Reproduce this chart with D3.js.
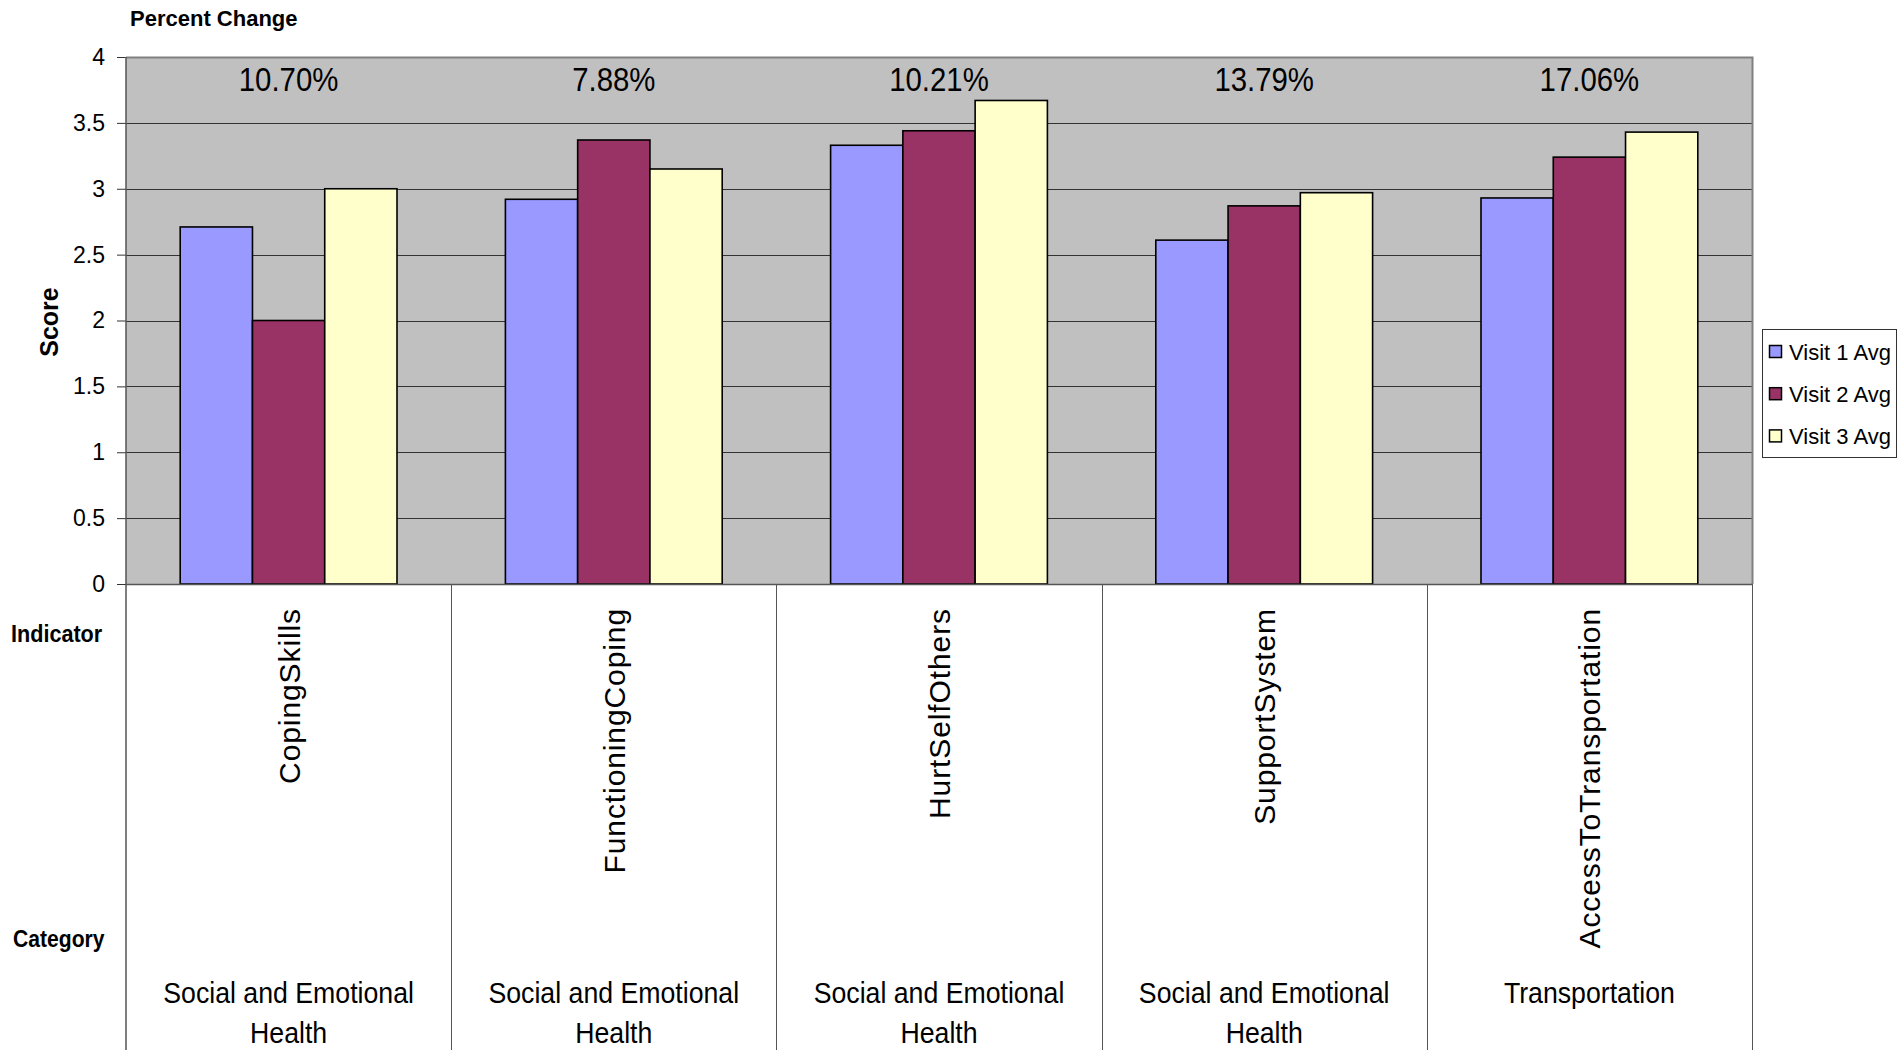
<!DOCTYPE html>
<html>
<head>
<meta charset="utf-8">
<script src="https://cdn.jsdelivr.net/npm/d3@7"></script>
<style>
  html, body { margin: 0; padding: 0; background: #fff; }
  svg { display: block; font-family: "Liberation Sans", Arial, sans-serif; }
</style>
</head>
<body>
<svg id="chart" width="1899" height="1050"></svg>
<script>
// ---- data ----
const indicators = ["CopingSkills", "FunctioningCoping", "HurtSelfOthers", "SupportSystem", "AccessToTransportation"];
const categories = [["Social and Emotional", "Health"], ["Social and Emotional", "Health"], ["Social and Emotional", "Health"], ["Social and Emotional", "Health"], ["Transportation"]];
const seriesNames = ["Visit 1 Avg", "Visit 2 Avg", "Visit 3 Avg"];
const visit1 = [2.71, 2.92, 3.33, 2.61, 2.93];
const visit2 = [2.00, 3.37, 3.44, 2.87, 3.24];
const visit3 = [3.00, 3.15, 3.67, 2.97, 3.43];
const percentChange = ["10.70%", "7.88%", "10.21%", "13.79%", "17.06%"];
const yTicks = [0, 0.5, 1, 1.5, 2, 2.5, 3, 3.5, 4];
const seriesColors = ["#9999FF", "#993366", "#FFFFCC"];

// ---- layout ----
const svg = d3.select("#chart");
const plot = { left: 126, right: 1752, top: 57, bottom: 584 };
const seriesValues = [visit1, visit2, visit3];

const x0 = d3.scaleBand().domain(indicators).range([plot.left, plot.right]).padding(0);
const x1 = d3.scaleBand().domain(seriesNames).range([0, x0.bandwidth()]).paddingInner(0).paddingOuter(0.75);
const y = d3.scaleLinear().domain([0, 4]).range([plot.bottom, plot.top]);
const color = d3.scaleOrdinal().domain(seriesNames).range(seriesColors);

function condense(sel, f) {
  sel.each(function () {
    const len = this.getComputedTextLength();
    d3.select(this).attr("textLength", len * f).attr("lengthAdjust", "spacingAndGlyphs");
  });
}

// plot background
svg.append("rect")
  .attr("x", plot.left).attr("y", plot.top)
  .attr("width", plot.right - plot.left).attr("height", plot.bottom - plot.top)
  .attr("fill", "#C0C0C0");

// gridlines
svg.append("g").selectAll("line").data(yTicks.filter(t => t > 0 && t < 4)).join("line")
  .attr("x1", plot.left).attr("x2", plot.right)
  .attr("y1", d => Math.round(y(d)) + 0.5).attr("y2", d => Math.round(y(d)) + 0.5)
  .attr("stroke", "#333").attr("stroke-width", 1);

// plot border top/right
svg.append("path")
  .attr("d", `M${plot.left},${plot.top + 0.5}H${plot.right + 0.5}V${plot.bottom}`)
  .attr("fill", "none").attr("stroke", "#808080").attr("stroke-width", 2);

// bars
const rows = indicators.map((ind, i) => ({ ind, vals: seriesNames.map((s, k) => ({ s, v: seriesValues[k][i] })) }));
const groups = svg.append("g").selectAll("g").data(rows).join("g")
  .attr("transform", d => `translate(${x0(d.ind)},0)`);
groups.selectAll("rect").data(d => d.vals).join("rect")
  .attr("x", d => x1(d.s))
  .attr("y", d => y(d.v))
  .attr("width", x1.bandwidth())
  .attr("height", d => y(0) - y(d.v))
  .attr("fill", d => color(d.s))
  .attr("stroke", "#000").attr("stroke-width", 1.6);

// y axis
const yAxis = d3.axisLeft(y).tickValues(yTicks).tickSize(9).tickPadding(12).tickFormat(d3.format("~g"));
const yg = svg.append("g").attr("transform", `translate(${plot.left},0)`).call(yAxis);
yg.select(".domain").remove();
yg.selectAll(".tick line").attr("stroke", "#333");
yg.selectAll(".tick text").attr("font-size", 23).attr("fill", "#000")
  .attr("font-family", '"Liberation Sans", Arial, sans-serif');
yg.append("line").attr("x1", 0).attr("x2", 0).attr("y1", plot.top).attr("y2", 1050)
  .attr("stroke", "#555").attr("stroke-width", 1.5);

// x axis line
svg.append("line").attr("x1", plot.left).attr("x2", plot.right + 1)
  .attr("y1", plot.bottom + 0.5).attr("y2", plot.bottom + 0.5)
  .attr("stroke", "#555").attr("stroke-width", 1.5);

// category separators in the table area
const bounds = indicators.map(d => x0(d) + x0.bandwidth());
svg.append("g").selectAll("line").data(bounds).join("line")
  .attr("x1", d => Math.round(d) + 0.5).attr("x2", d => Math.round(d) + 0.5)
  .attr("y1", plot.bottom).attr("y2", 1050)
  .attr("stroke", "#555").attr("stroke-width", 1);

// percent change labels
const pct = svg.append("g").selectAll("text").data(percentChange).join("text")
  .attr("x", (d, i) => x0(indicators[i]) + x0.bandwidth() / 2)
  .attr("y", 91)
  .attr("text-anchor", "middle")
  .attr("font-size", 33)
  .attr("fill", "#000")
  .text(d => d);
condense(pct, 0.89);

// indicator labels (rotated)
svg.append("g").selectAll("text").data(indicators).join("text")
  .attr("transform", d => `translate(${x0(d) + x0.bandwidth() / 2 + 11},608) rotate(-90)`)
  .attr("text-anchor", "end")
  .attr("font-size", 30)
  .attr("letter-spacing", 0.9)
  .attr("fill", "#000")
  .text(d => d);

// category labels
const catG = svg.append("g").selectAll("text").data(categories).join("text")
  .attr("text-anchor", "middle")
  .attr("font-size", 29)
  .attr("fill", "#000");
catG.each(function (lines, i) {
  const cx = x0(indicators[i]) + x0.bandwidth() / 2;
  const t = d3.select(this);
  lines.forEach((ln, j) => {
    t.append("tspan").attr("x", cx).attr("y", 1003 + j * 40).text(ln);
  });
});
svg.selectAll("tspan").each(function () {
  const len = this.getComputedTextLength();
  d3.select(this).attr("textLength", len * 0.92).attr("lengthAdjust", "spacingAndGlyphs");
});

// row titles
const bold = svg.append("g").attr("font-weight", "bold").attr("fill", "#000");
bold.append("text").attr("x", 130).attr("y", 26).attr("font-size", 22).text("Percent Change");
const ind = bold.append("text").attr("x", 11).attr("y", 642).attr("font-size", 24).text("Indicator");
condense(ind, 0.9);
const cat = bold.append("text").attr("x", 13).attr("y", 947).attr("font-size", 24).text("Category");
condense(cat, 0.88);
bold.append("text").attr("transform", "translate(58,322) rotate(-90)")
  .attr("text-anchor", "middle").attr("font-size", 25).text("Score");

// legend
const lg = svg.append("g").attr("transform", "translate(1762,329)");
lg.append("rect").attr("x", 0.5).attr("y", 0.5).attr("width", 134).attr("height", 128)
  .attr("fill", "#fff").attr("stroke", "#333").attr("stroke-width", 1);
const li = lg.selectAll("g").data(seriesNames).join("g")
  .attr("transform", (d, i) => `translate(0,${23 + i * 42.2})`);
li.append("rect").attr("x", 7.5).attr("y", -6.5).attr("width", 12).attr("height", 12)
  .attr("fill", d => color(d)).attr("stroke", "#000").attr("stroke-width", 1.5);
li.append("text").attr("x", 27).attr("y", 8).attr("font-size", 22).attr("fill", "#000").text(d => d);
</script>
</body>
</html>
